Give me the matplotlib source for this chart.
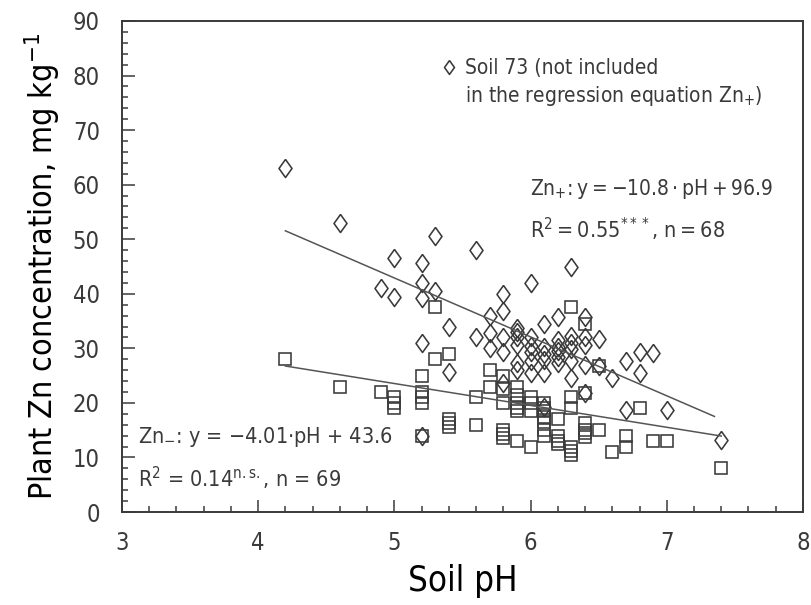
import matplotlib
matplotlib.use("Agg")
import matplotlib.pyplot as plt
from matplotlib.lines import Line2D
from matplotlib.ticker import MultipleLocator
import numpy as np

# Zn+ soils (diamonds), pH and plant Zn concentration (mg/kg)
zn_plus_ph = [
    4.2, 4.6, 4.9, 5.0, 5.0, 5.2, 5.2, 5.2, 5.2, 5.2,
    5.3, 5.3, 5.4, 5.4, 5.6, 5.6, 5.7, 5.7, 5.7, 5.8,
    5.8, 5.8, 5.8, 5.8, 5.9, 5.9, 5.9, 5.9, 5.9, 6.0,
    6.0, 6.0, 6.0, 6.0, 6.1, 6.1, 6.1, 6.1, 6.1, 6.2,
    6.2, 6.2, 6.2, 6.3, 6.3, 6.3, 6.3, 6.3, 6.4, 6.4,
    6.4, 6.4, 6.4, 6.5, 6.5, 6.6, 6.7, 6.7, 6.8, 6.8,
    6.9, 7.0, 5.9, 6.0, 6.1, 6.2, 6.3, 6.2,
]
zn_plus_conc = [
    63.0, 53.0, 41.0, 46.5, 39.5, 45.7, 42.0, 39.3, 31.0, 14.0,
    50.6, 40.6, 34.0, 25.7, 48.0, 32.0, 35.9, 32.9, 30.0, 39.9,
    36.8, 32.0, 29.4, 23.7, 33.8, 33.0, 30.7, 27.4, 26.0, 42.0,
    32.0, 29.4, 27.6, 25.5, 34.4, 30.3, 27.9, 25.5, 19.3, 35.8,
    30.3, 29.5, 27.4, 45.0, 32.2, 29.8, 27.6, 24.6, 35.8, 32.0,
    30.7, 27.0, 21.8, 31.8, 26.7, 24.6, 27.7, 18.7, 29.4, 25.5,
    29.2, 18.7, 32.0, 30.5, 29.0, 31.5, 31.0, 28.5,
]

# Zn- soils (squares)
zn_minus_ph = [
    4.2, 4.6, 4.9, 5.0, 5.0, 5.2, 5.2, 5.2, 5.2, 5.3,
    5.3, 5.4, 5.4, 5.4, 5.6, 5.6, 5.7, 5.7, 5.8, 5.8,
    5.8, 5.8, 5.8, 5.9, 5.9, 5.9, 5.9, 6.0, 6.0, 6.0,
    6.1, 6.1, 6.1, 6.1, 6.1, 6.2, 6.2, 6.2, 6.3, 6.3,
    6.3, 6.3, 6.3, 6.4, 6.4, 6.4, 6.4, 6.4, 6.5, 6.5,
    6.6, 6.7, 6.7, 6.8, 6.9, 7.0, 7.4, 5.4, 5.9, 6.1,
    6.1, 6.0, 5.8, 6.4, 6.3, 5.2, 5.0, 5.9, 6.2,
]
zn_minus_conc = [
    28.0, 23.0, 22.0, 21.0, 19.0, 25.0, 22.0, 20.0, 14.0, 37.5,
    28.0, 29.0, 17.0, 15.5, 21.0, 16.0, 26.0, 23.0, 25.0, 22.5,
    20.0, 15.0, 13.5, 23.0, 20.0, 18.5, 13.0, 21.0, 18.5, 12.0,
    20.0, 18.5, 16.5, 15.0, 14.0, 17.0, 14.0, 12.5, 37.5, 21.0,
    19.0, 12.0, 10.5, 34.5, 21.8, 16.3, 15.0, 13.8, 26.7, 15.0,
    11.0, 14.0, 12.0, 19.0, 13.0, 13.0, 8.0, 16.3, 21.5, 19.0,
    17.5, 20.0, 14.3, 14.5, 11.2, 21.0, 20.0, 19.0, 13.0,
]

# soil 73, excluded from the Zn+ regression
soil73_ph = [7.4]
soil73_conc = [13.2]

plus_fit = (-10.8, 96.9)
minus_fit = (-4.01, 43.6)
plus_span = [4.2, 7.35]
minus_span = [4.2, 7.4]

INK = "#3a3a3a"
TS = "\u2009"  # thin space, the original set the equations tightly

plt.rcParams.update({
    "font.family": ["DejaVu Sans"],
    "font.stretch": "condensed",
    "mathtext.fontset": "custom",
    "mathtext.rm": "DejaVu Sans:stretch=condensed",
    "mathtext.it": "DejaVu Sans:stretch=condensed",
    "mathtext.default": "rm",
    "text.color": INK,
    "axes.edgecolor": INK,
    "xtick.color": INK,
    "ytick.color": INK,
})

# tall open diamond, a bit wider than matplotlib's thin_diamond
diamond = [(0, 1), (0.72, 0), (0, -1), (-0.72, 0), (0, 1)]

fig = plt.figure(figsize=(8.11, 6.05), dpi=100)
ax = fig.add_axes([0.1504, 0.1537, 0.8397, 0.8116])

mk = dict(linestyle="none", markerfacecolor="none", markeredgecolor=INK,
          markeredgewidth=1.15)
ax.plot(zn_minus_ph, zn_minus_conc, marker="s", markersize=9, **mk)
ax.plot(zn_plus_ph, zn_plus_conc, marker=diamond, markersize=13, **mk)
ax.plot(soil73_ph, soil73_conc, marker=diamond, markersize=13, **mk)

for (slope, icpt), span in [(plus_fit, plus_span), (minus_fit, minus_span)]:
    xs = np.array(span)
    ax.plot(xs, slope * xs + icpt, color="#555555", lw=1.1)

ax.set_xlim(3, 8)
ax.set_ylim(0, 90)
ax.xaxis.set_major_locator(MultipleLocator(1))
ax.xaxis.set_minor_locator(MultipleLocator(0.2))
ax.yaxis.set_major_locator(MultipleLocator(10))
ax.yaxis.set_minor_locator(MultipleLocator(2))
ax.tick_params(which="both", direction="in", top=False, right=False,
               labelsize=17, width=1.1)
ax.tick_params(which="major", length=9)
ax.tick_params(which="minor", length=4.5)
ax.tick_params(axis="x", which="major", pad=14)
ax.tick_params(axis="y", which="major", pad=16)
for sp in ax.spines.values():
    sp.set_linewidth(1.4)

ax.set_xlabel("Soil pH", fontsize=25, labelpad=6)
ax.set_ylabel("Plant Zn concentration, mg kg$^{-1}$", fontsize=23, labelpad=8)

# key for soil 73: symbol on the first line, text wraps onto a second entry
key_handles = [Line2D([], [], marker=diamond, markersize=10, **mk),
               Line2D([], [], linestyle="none")]
key_labels = ["Soil 73 (not included", "in the regression equation Zn$_{+}$)"]
ax.legend(key_handles, key_labels, loc="upper left",
          bbox_to_anchor=(0.44, 0.962), frameon=False, fontsize=15,
          handlelength=0.8, handletextpad=0.4, labelspacing=0.25)

eq_plus = f"Zn$_{{+}}$:{TS}y{TS}={TS}\u221210.8{TS}\u00b7{TS}pH{TS}+{TS}96.9"
eq_minus = "Zn$_{-}$: y = \u22124.01\u00b7pH + 43.6"
ax.text(0.599, 0.657, eq_plus, transform=ax.transAxes, fontsize=15, va="center")
ax.text(0.599, 0.576, f"R$^{{2}}${TS}={TS}0.55$^{{***}}$, n{TS}={TS}68",
        transform=ax.transAxes, fontsize=15.5, va="center")
ax.text(0.0235, 0.153, eq_minus, transform=ax.transAxes, fontsize=15.5, va="center")
ax.text(0.0235, 0.069, f"R$^{{2}}$ = 0.14$^{{\\mathrm{{n.s.}}}}$, n = 69",
        transform=ax.transAxes, fontsize=15.5, va="center")

fig.savefig("out.png", dpi=100, facecolor="white")
